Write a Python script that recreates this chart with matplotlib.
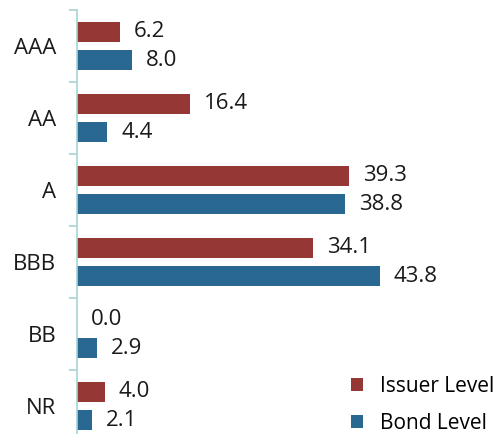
import numpy as np
import matplotlib
matplotlib.use("Agg")
import matplotlib.pyplot as plt

plt.rcParams['font.family'] = ['Open Sans', 'DejaVu Sans']

# Ratings and shares (%)
ratings = ['AAA', 'AA', 'A', 'BBB', 'BB', 'NR']
issuer_level = [6.2, 16.4, 39.3, 34.1, 0.0, 4.0]
bond_level = [8.0, 4.4, 38.8, 43.8, 2.9, 2.1]

red = '#953735'
blue = '#286891'
axis_col = '#A8D3D4'

fig = plt.figure(figsize=(4.99, 4.34), dpi=100)
ax = fig.add_axes([77 / 499, -8 / 434, 415 / 499, 432 / 434])

y = np.arange(len(ratings))
h = 0.28
off = 0.2
b1 = ax.barh(y - off, issuer_level, height=h, color=red, label='Issuer Level')
b2 = ax.barh(y + off, bond_level, height=h, color=blue, label='Bond Level')

for bars, vals in [(b1, issuer_level), (b2, bond_level)]:
    for bar, v in zip(bars, vals):
        ax.annotate(f'{v:.1f}', (v, bar.get_y() + bar.get_height() / 2),
                    xytext=(10, 0), textcoords='offset points',
                    va='center', ha='left', fontsize=16, color='#1a1a1a')

ax.set_xlim(0, 60)
ax.set_ylim(len(ratings) - 0.5, -0.5)

ax.set_yticks(y)
ax.set_yticklabels(ratings, fontsize=16, color='#1a1a1a')
ax.set_yticks(np.arange(-0.5, len(ratings)), minor=True)
ax.tick_params(axis='y', which='major', length=0, pad=15)
ax.tick_params(axis='y', which='minor', length=6, color=axis_col, width=1.2)
ax.set_xticks([])

for s in ['top', 'right', 'bottom']:
    ax.spines[s].set_visible(False)
ax.spines['left'].set_color(axis_col)
ax.spines['left'].set_linewidth(1.2)

ax.legend(loc='lower right', bbox_to_anchor=(1.05, -0.024), frameon=False,
          fontsize=15, handlelength=0.6, handleheight=0.6, handletextpad=0.8,
          labelspacing=0.75)

fig.savefig('out.png', dpi=100)
